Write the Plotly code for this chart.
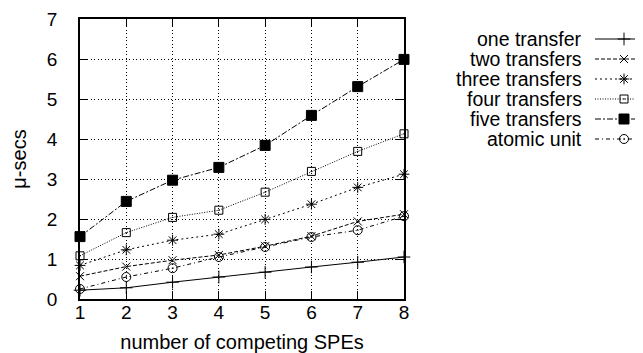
import plotly.graph_objects as go

x_spes = [1, 2, 3, 4, 5, 6, 7, 8]
one_transfer = [0.22, 0.28, 0.42, 0.55, 0.67, 0.80, 0.92, 1.05]
two_transfers = [0.57, 0.81, 0.97, 1.10, 1.32, 1.57, 1.94, 2.12]
three_transfers = [0.84, 1.23, 1.47, 1.62, 1.99, 2.37, 2.79, 3.12]
four_transfers = [1.08, 1.66, 2.04, 2.22, 2.67, 3.19, 3.69, 4.13]
five_transfers = [1.56, 2.44, 2.97, 3.29, 3.84, 4.59, 5.31, 5.99]
atomic_unit = [0.25, 0.55, 0.77, 1.05, 1.30, 1.55, 1.72, 2.07]

series = [
    ("one transfer", one_transfer, "solid", "cross-thin-open", 9),
    ("two transfers", two_transfers, "4px,2px", "x-thin-open", 8),
    ("three transfers", three_transfers, "2px,3px", "asterisk-open", 9),
    ("four transfers", four_transfers, "1px,1.5px", "square-open-dot", 8),
    ("five transfers", five_transfers, "6px,2px,2px,2px", "square", 10),
    ("atomic unit", atomic_unit, "4px,3px,1px,3px", "circle-open-dot", 9),
]

W, H = 643, 353
font = "Liberation Sans, Arial, Helvetica, sans-serif"

fig = go.Figure()
for name, ys, dash, sym, size in series:
    fig.add_trace(go.Scatter(
        x=x_spes, y=ys, name=name, mode="lines+markers", showlegend=False,
        line=dict(color="black", width=1, dash=dash),
        marker=dict(symbol=sym, size=size, color="black",
                    line=dict(color="black", width=1)),
        cliponaxis=False,
    ))

# legend keys (gnuplot style: text on the left, sample on the right)
legend_rows = [31, 51, 71, 91, 111, 131]
for (name, ys, dash, sym, size), row in zip(series, legend_rows):
    fig.add_trace(go.Scatter(
        x=[0, 0.5, 1], y=[row, row, row], mode="lines", showlegend=False,
        xaxis="x2", yaxis="y2", hoverinfo="skip",
        line=dict(color="black", width=1, dash=dash),
    ))
    fig.add_trace(go.Scatter(
        x=[0.5], y=[row], mode="markers", showlegend=False,
        xaxis="x2", yaxis="y2", hoverinfo="skip",
        marker=dict(symbol=sym, size=size, color="black",
                    line=dict(color="black", width=1)),
    ))
    fig.add_annotation(text=name, xref="paper", yref="y2", x=576 / W, y=row,
                       xanchor="right", yanchor="middle", showarrow=False,
                       font=dict(family=font, size=19.5, color="black"))

axis_common = dict(
    showline=True, linecolor="black", linewidth=1.5, mirror="ticks",
    ticks="inside", ticklen=8, tickcolor="black", tickwidth=1,
    showgrid=True, gridcolor="black", griddash="1px,2.5px", gridwidth=1,
    zeroline=False, automargin=False,
    tickfont=dict(family=font, size=19, color="black"),
)
fig.update_layout(
    width=W, height=H,
    margin=dict(l=0, r=0, t=0, b=0),
    plot_bgcolor="white", paper_bgcolor="white",
    showlegend=False,
    xaxis=dict(domain=[72 / W, 396 / W], range=[1, 8], dtick=1, tick0=1,
               ticklabelstandoff=-5,
               title=dict(text="number of competing SPEs",
                          font=dict(family=font, size=20, color="black"), standoff=13),
               **axis_common),
    yaxis=dict(domain=[62 / H, 342 / H], range=[0, 7], dtick=1, tick0=0,
               ticklabelstandoff=17,
               title=dict(text="μ-secs",
                          font=dict(family=font, size=20, color="black"), standoff=23),
               **axis_common),
    xaxis2=dict(domain=[587 / W, 1.0], range=[0, 56 / 58], visible=False,
                anchor="y2", fixedrange=True),
    yaxis2=dict(domain=[0, 1], range=[H, 0], visible=False,
                anchor="x2", fixedrange=True),
)

fig.write_html("out.html")
